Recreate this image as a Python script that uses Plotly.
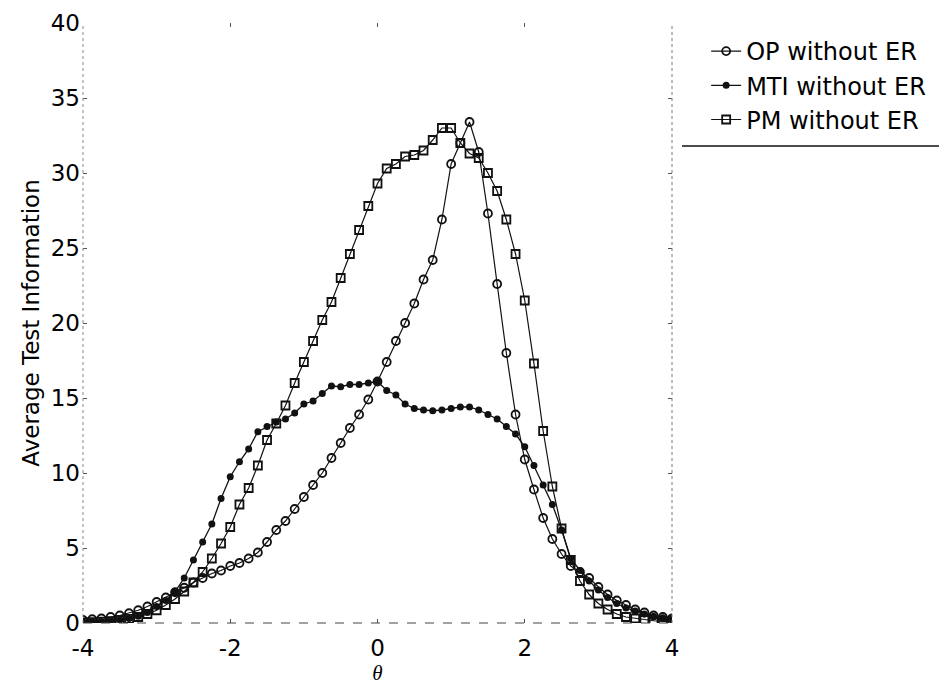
import numpy as np
import plotly.graph_objects as go

theta = [-4 + 0.125 * k for k in range(65)]

op_vals = [0.2, 0.25, 0.3, 0.4, 0.5, 0.65, 0.85, 1.1, 1.4, 1.7, 2.05, 2.35, 2.7, 3.0, 3.3, 3.5,
           3.8, 4.0, 4.3, 4.7, 5.4, 6.2, 6.8, 7.6, 8.4, 9.2, 10.0, 11.0, 12.0, 13.0, 13.9, 14.9,
           16.1, 17.4, 18.8, 20.0, 21.3, 22.9, 24.2, 26.9, 30.6, 32.0, 33.4, 31.4, 27.3, 22.6,
           18.0, 13.9, 10.9, 8.9, 7.0, 5.6, 4.6, 3.8, 3.4, 3.0, 2.4, 1.9, 1.5, 1.2, 0.9, 0.7,
           0.5, 0.4, 0.3]

mti_vals = [0.05, 0.08, 0.1, 0.15, 0.2, 0.3, 0.45, 0.7, 1.1, 1.5, 2.1, 3.0, 4.2, 5.4, 6.6, 8.3,
            9.75, 10.75, 11.6, 12.75, 13.1, 13.4, 13.6, 14.0, 14.6, 14.8, 15.3, 15.8, 15.75, 15.9, 15.9, 16.0,
            16.1, 15.5, 15.2, 14.6, 14.3, 14.2, 14.15, 14.2, 14.3, 14.4, 14.4, 14.2, 13.9, 13.6,
            13.1, 12.6, 11.75, 10.5, 9.2, 7.9, 6.2, 4.3, 3.5, 2.8, 2.2, 1.7, 1.3, 1.0, 0.8, 0.6,
            0.45, 0.35, 0.3]

pm_vals = [0.04, 0.06, 0.09, 0.13, 0.2, 0.28, 0.4, 0.6, 0.85, 1.2, 1.6, 2.1, 2.7, 3.4, 4.3, 5.3,
           6.4, 7.9, 9.0, 10.5, 12.2, 13.3, 14.5, 16.0, 17.4, 18.8, 20.2, 21.4, 23.0, 24.6, 26.2, 27.8,
           29.3, 30.3, 30.6, 31.1, 31.2, 31.5, 32.2, 33.0, 33.0, 32.0, 31.3, 31.0, 30.0, 28.8,
           26.9, 24.6, 21.5, 17.3, 12.8, 9.1, 6.3, 4.2, 2.8, 1.9, 1.3, 0.9, 0.6, 0.4, 0.3, 0.2,
           0.15, 0.1, 0.1]

series_names = ["OP without ER", "MTI without ER", "PM without ER"]

x_ticks = [-4, -2, 0, 2, 4]
x_tick_text = ["-4", "-2", "0", "2", "4"]
y_ticks = [0, 5, 10, 15, 20, 25, 30, 35, 40]

fig = go.Figure()
fig.add_trace(go.Scatter(
    x=theta, y=op_vals, name=series_names[0], mode="lines+markers",
    line=dict(color="#111111", width=1.2),
    marker=dict(symbol="circle-open", size=8, color="#111111", line=dict(width=1.8)),
))
fig.add_trace(go.Scatter(
    x=theta, y=mti_vals, name=series_names[1], mode="lines+markers",
    line=dict(color="#111111", width=1.3),
    marker=dict(symbol="circle", size=7, color="#111111"),
))
fig.add_trace(go.Scatter(
    x=theta, y=pm_vals, name=series_names[2], mode="lines+markers",
    line=dict(color="#111111", width=1.2),
    marker=dict(symbol="square-open", size=8, color="#111111", line=dict(width=1.8)),
))

fam = "DejaVu Sans, Liberation Sans, Arial, sans-serif"
tick_font = dict(family=fam, size=23, color="#000000")
title_font = dict(family=fam, size=23, color="#000000")

fig.update_layout(
    width=939, height=687,
    margin=dict(l=83, r=267, t=23, b=64, autoexpand=False),
    paper_bgcolor="white", plot_bgcolor="white",
    font=tick_font,
    showlegend=True,
    legend=dict(
        x=1.058, y=0.99, xanchor="left", yanchor="top",
        font=dict(family=fam, size=24, color="#000000"),
        bgcolor="rgba(0,0,0,0)", borderwidth=0,
        tracegroupgap=0, itemwidth=30,
    ),
    xaxis=dict(
        range=[-4, 4], tickmode="array", tickvals=x_ticks, ticktext=x_tick_text,
        ticks="inside", ticklen=4, tickcolor="#555555", mirror="ticks",
        showgrid=False, zeroline=False, showline=False, automargin=False,
        tickfont=tick_font, ticklabelstandoff=9,
        title=dict(text="<i>θ</i>", font=dict(family="Liberation Serif, Times New Roman, serif", size=21),
                   standoff=4),
    ),
    yaxis=dict(
        range=[0, 40], tickmode="array", tickvals=y_ticks,
        ticks="inside", ticklen=4, tickcolor="#555555", mirror="ticks",
        showgrid=False, zeroline=False, showline=False, automargin=False,
        tickfont=tick_font, ticklabelstandoff=2,
        title=dict(text="Average Test Information", font=title_font, standoff=4),
    ),
    shapes=[
        dict(type="line", xref="paper", yref="paper", x0=0, x1=0, y0=0, y1=1,
             line=dict(color="#888888", width=1, dash="dot")),
        dict(type="line", xref="paper", yref="paper", x0=1, x1=1, y0=0, y1=1,
             line=dict(color="#777777", width=1, dash="dot")),
        dict(type="line", xref="paper", yref="paper", x0=0, x1=1, y0=0, y1=0,
             line=dict(color="#444444", width=1, dash="dash")),
        dict(type="line", xref="paper", yref="paper", x0=1.017, x1=1.46, y0=0.795, y1=0.795,
             line=dict(color="#111111", width=1.5)),
    ],
)

fig.write_html("out.html")
